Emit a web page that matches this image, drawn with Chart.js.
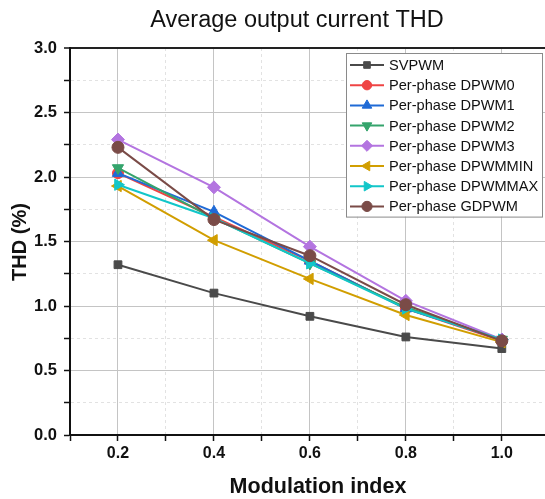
<!DOCTYPE html>
<html>
<head>
<meta charset="utf-8">
<script src="https://cdn.jsdelivr.net/npm/chart.js@4.4.0/dist/chart.umd.min.js"></script>
<style>
  html, body { margin: 0; padding: 0; background: #fff; }
  #wrap { width: 545px; height: 499px; }
</style>
</head>
<body>
<div id="wrap"><canvas id="thd-chart" width="545" height="499"></canvas></div>
<script>
// Modulation index values (x)
const modIndex = [0.2, 0.4, 0.6, 0.8, 1.0];

// THD (%) per modulation scheme
const svpwm    = [1.32, 1.10, 0.92, 0.76, 0.67];
const dpwm0    = [2.03, 1.69, 1.35, 0.98, 0.73];
const dpwm1    = [2.03, 1.73, 1.35, 0.98, 0.74];
const dpwm2    = [2.07, 1.68, 1.33, 0.99, 0.74];
const dpwm3    = [2.29, 1.92, 1.46, 1.04, 0.74];
const dpwmMin  = [1.93, 1.51, 1.21, 0.93, 0.72];
const dpwmMax  = [1.94, 1.68, 1.33, 0.98, 0.74];
const gdpwm    = [2.23, 1.67, 1.39, 1.01, 0.73];

const xTicks = [0.2, 0.4, 0.6, 0.8, 1.0];
const xMinorTicks = [0.1, 0.3, 0.5, 0.7, 0.9];
const yTicks = [0.0, 0.5, 1.0, 1.5, 2.0, 2.5, 3.0];

const FONT = "'Liberation Sans', Arial, sans-serif";

function series(label, values, color, pointStyle, rotation, radius) {
    return {
        label: label,
        data: values.map((v, i) => ({ x: modIndex[i], y: v })),
        borderColor: color,
        backgroundColor: color,
        pointStyle: pointStyle,
        rotation: rotation,
        pointRadius: radius,
        pointHoverRadius: radius,
        borderWidth: 2,
        pointBorderWidth: 1,
        tension: 0
    };
}

const datasets = [
    series('SVPWM', svpwm, '#4a4a4a', 'rect', 0, 5.5),
    series('Per-phase DPWM0', dpwm0, '#ef4444', 'circle', 0, 5.5),
    series('Per-phase DPWM1', dpwm1, '#1f6ad6', 'triangle', 0, 6.5),
    series('Per-phase DPWM2', dpwm2, '#35a46c', 'triangle', 180, 6.5),
    series('Per-phase DPWM3', dpwm3, '#b374e0', 'rectRot', 0, 6.5),
    series('Per-phase DPWMMIN', dpwmMin, '#d19e00', 'triangle', -90, 6.5),
    series('Per-phase DPWMMAX', dpwmMax, '#12c6c9', 'triangle', 90, 6.5),
    series('Per-phase GDPWM', gdpwm, '#7a4b47', 'circle', 0, 6)
];
// last series on top, like the original plot
datasets.forEach((d, i) => { d.order = datasets.length - i; });

function near(a, b) { return Math.abs(a - b) < 1e-6; }
function isMajorX(v) { return xTicks.some(t => near(t, v)); }
function isMajorY(v) { return yTicks.some(t => near(t, v)); }

// Title and axis titles drawn by hand to match the original placement
const titles = {
    id: 'titles',
    afterDraw(chart) {
        const ctx = chart.ctx;
        ctx.save();
        ctx.fillStyle = '#111';
        ctx.textAlign = 'center';
        ctx.textBaseline = 'middle';
        ctx.font = '23.5px ' + FONT;
        ctx.fillText('Average output current THD', 297, 21);
        ctx.font = 'bold 21.5px ' + FONT;
        ctx.fillText('Modulation index', 318, 487);
        ctx.translate(20, 242);
        ctx.rotate(-Math.PI / 2);
        ctx.font = 'bold 20px ' + FONT;
        ctx.fillText('THD (%)', 0, 0);
        ctx.restore();
    }
};

// Legend box inside the plot area, line + marker per entry
const boxLegend = {
    id: 'boxLegend',
    afterDraw(chart) {
        const ctx = chart.ctx;
        const x0 = 346, y0 = 53, w = 196, rowH = 20.2;
        const h = rowH * chart.data.datasets.length + 2;
        ctx.save();
        ctx.fillStyle = '#fff';
        ctx.strokeStyle = '#8a8a8a';
        ctx.lineWidth = 1;
        ctx.fillRect(x0, y0, w, h);
        ctx.strokeRect(x0 + 0.5, y0 + 0.5, w, h);
        ctx.font = '14.6px ' + FONT;
        ctx.textBaseline = 'middle';
        chart.data.datasets.forEach((ds, i) => {
            const cy = y0 + 12 + i * rowH;
            ctx.strokeStyle = ds.borderColor;
            ctx.lineWidth = 2;
            ctx.beginPath();
            ctx.moveTo(x0 + 4, cy);
            ctx.lineTo(x0 + 38, cy);
            ctx.stroke();
            ctx.fillStyle = ds.backgroundColor;
            ctx.lineWidth = 1;
            Chart.helpers.drawPoint(ctx, {
                pointStyle: ds.pointStyle,
                rotation: ds.rotation,
                radius: ds.pointRadius * 0.85,
                borderWidth: 1
            }, x0 + 21, cy);
            ctx.fillStyle = '#111';
            ctx.fillText(ds.label, x0 + 43, cy + 1);
        });
        ctx.restore();
    }
};

new Chart(document.getElementById('thd-chart'), {
    type: 'line',
    data: { datasets: datasets },
    plugins: [titles, boxLegend],
    options: {
        responsive: false,
        animation: false,
        layout: { autoPadding: false, padding: { left: 0, right: 0, top: 48, bottom: 0 } },
        plugins: {
            legend: { display: false },
            tooltip: { enabled: false },
            title: { display: false }
        },
        scales: {
            x: {
                type: 'linear',
                min: 0.1,
                max: 1.09,
                afterBuildTicks(s) {
                    s.ticks = xMinorTicks.concat(xTicks)
                        .sort((a, b) => a - b)
                        .map(v => ({ value: v }));
                },
                afterFit(s) { s.height = 64; },
                ticks: {
                    autoSkip: false,
                    maxRotation: 0,
                    color: '#111',
                    padding: 3,
                    font: { family: FONT, size: 16, weight: 'bold' },
                    callback: v => isMajorX(v) ? v.toFixed(1) : ''
                },
                grid: {
                    color: c => {
                        const v = c.tick ? c.tick.value : 0;
                        if (near(v, 0.1)) return 'rgba(0,0,0,0)';
                        return isMajorX(v) ? '#c4c4c4' : '#e2e2e2';
                    },
                    lineWidth: 1,
                    tickLength: 6,
                    tickColor: '#111',
                    tickBorderDash: [],
                    tickWidth: 1.5
                },
                border: {
                    display: true,
                    color: '#111',
                    width: 2,
                    dash: c => (c.tick && !isMajorX(c.tick.value)) ? [3, 3] : []
                },
                title: { display: false }
            },
            y: {
                min: 0,
                max: 3,
                afterFit(s) { s.width = 70; },
                ticks: {
                    stepSize: 0.25,
                    autoSkip: false,
                    color: '#111',
                    padding: 7,
                    font: { family: FONT, size: 16.5, weight: 'bold' },
                    callback: v => isMajorY(v) ? v.toFixed(1) : ''
                },
                grid: {
                    color: c => {
                        const v = c.tick ? c.tick.value : 0;
                        if (near(v, 0)) return 'rgba(0,0,0,0)';
                        if (near(v, 3)) return '#222';
                        return isMajorY(v) ? '#c4c4c4' : '#e2e2e2';
                    },
                    lineWidth: c => (c.tick && near(c.tick.value, 3)) ? 2 : 1,
                    tickLength: 6,
                    tickColor: '#111',
                    tickBorderDash: [],
                    tickWidth: 1.5
                },
                border: {
                    display: true,
                    color: '#111',
                    width: 2,
                    dash: c => (c.tick && !isMajorY(c.tick.value)) ? [3, 3] : []
                },
                title: { display: false }
            }
        }
    }
});
</script>
</body>
</html>
